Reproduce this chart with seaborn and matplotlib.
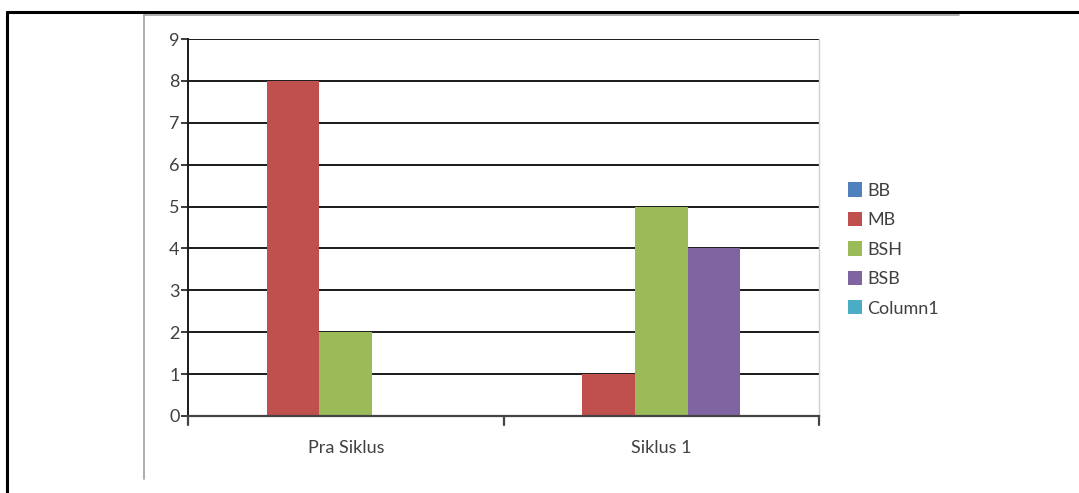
import pandas as pd
import matplotlib.pyplot as plt
import seaborn as sns
from matplotlib.lines import Line2D
from matplotlib.patches import Patch

# --- Data ---
CATEGORIES = ["Pra Siklus", "Siklus 1"]
SERIES = ["BB", "MB", "BSH", "BSB", "Column1"]
BB = [0, 0]
MB = [8, 1]
BSH = [2, 5]
BSB = [0, 4]
COLUMN1 = [0, 0]
COLORS = ["#4F81BD", "#C0504D", "#9BBB59", "#8064A2", "#4BACC6"]

W, H = 1079, 493


def fx(px):
    return px / W


def fy(py):
    return 1 - py / H


def main():
    rows = []
    for name, vals in zip(SERIES, [BB, MB, BSH, BSB, COLUMN1]):
        for cat, v in zip(CATEGORIES, vals):
            rows.append({"Kategori": cat, "Seri": name, "Nilai": v})
    df = pd.DataFrame(rows)

    sns.set_theme(style="white")
    plt.rcParams['font.family'] = ['Lato', 'DejaVu Sans']

    fig = plt.figure(figsize=(W / 100, H / 100), dpi=100)
    ax = fig.add_axes([fx(188), fy(416), fx(819) - fx(188), fy(39) - fy(416)])

    sns.barplot(data=df, x="Kategori", y="Nilai", hue="Seri", hue_order=SERIES,
                palette=COLORS, width=5 / 6, saturation=1, ax=ax, legend=False,
                edgecolor="none", linewidth=0)

    ax.set_xlim(-0.5, 1.5)
    ax.set_ylim(0, 9)
    ax.set_yticks(range(0, 10))
    ax.set_xlabel("")
    ax.set_ylabel("")

    # black horizontal gridlines
    ax.yaxis.grid(True, color="#1a1a1a", linewidth=1.4)
    ax.set_axisbelow(True)

    ax.spines["top"].set_visible(False)
    ax.spines["right"].set_color("#d0d0d0")
    ax.spines["right"].set_linewidth(1)
    ax.spines["left"].set_color("#1a1a1a")
    ax.spines["left"].set_linewidth(1.4)
    ax.spines["bottom"].set_color("#444444")
    ax.spines["bottom"].set_linewidth(1.6)

    ax.tick_params(axis="y", left=True, length=5, width=1.2, color="#1a1a1a",
                   labelsize=13, labelcolor="#404040", pad=1)
    ax.tick_params(axis="x", bottom=False, labelsize=13, labelcolor="#404040", pad=11)

    # category boundary ticks on x axis
    for xb in [-0.5, 0.5, 1.5]:
        ax.plot([xb, xb], [0, -0.22], color="#444444", lw=1.6, clip_on=False,
                transform=ax.transData)

    handles = [Patch(facecolor=c, edgecolor="none", label=s) for s, c in zip(SERIES, COLORS)]
    fig.legend(handles=handles, loc="upper left", bbox_to_anchor=(fx(832), fy(166)),
               frameon=False, fontsize=13, handlelength=0.75, handleheight=0.85,
               handletextpad=0.3, labelspacing=0.72, labelcolor="#404040")

    # outer black frame and inner grey frame
    fig.add_artist(Line2D([fx(7), fx(7)], [fy(12), 0], color="black", lw=2.2))
    fig.add_artist(Line2D([fx(7), 1], [fy(12), fy(12)], color="black", lw=2.2))
    fig.add_artist(Line2D([fx(144), fx(144)], [fy(15), fy(479)], color="#a0a0a0", lw=1.2))
    fig.add_artist(Line2D([fx(144), fx(959)], [fy(15), fy(15)], color="#a0a0a0", lw=1.2))

    fig.savefig("out.png", dpi=100)


if __name__ == "__main__":
    main()
